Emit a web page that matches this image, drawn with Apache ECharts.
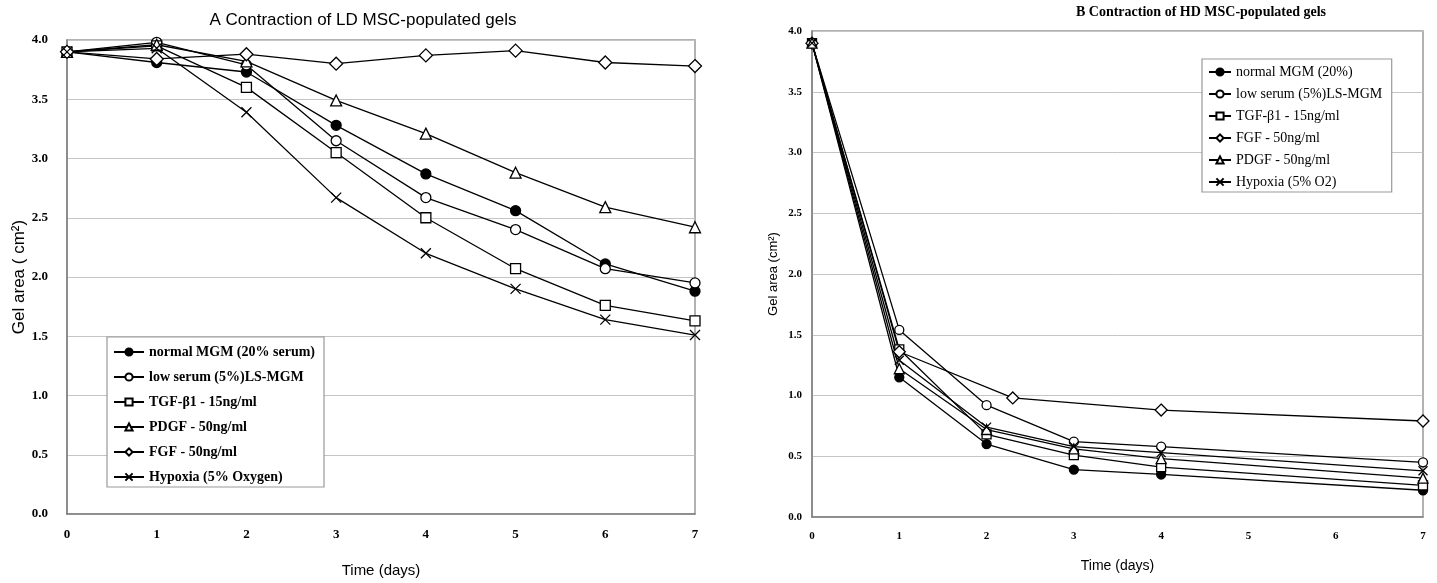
<!DOCTYPE html>
<html>
<head>
<meta charset="utf-8">
<script src="https://cdn.jsdelivr.net/npm/echarts@6/dist/echarts.min.js"></script>
<style>
  html, body { margin: 0; padding: 0; background: #fff; }
  #chart { width: 1437px; height: 583px; }
</style>
</head>
<body>
<div id="chart"></div>
<script>
// Panel A: low-density gels, measured every day
const daysA = [0, 1, 2, 3, 4, 5, 6, 7];
const normalA  = [3.90, 3.81, 3.73, 3.28, 2.87, 2.56, 2.11, 1.88];
const lowSerumA = [3.90, 3.98, 3.79, 3.15, 2.67, 2.40, 2.07, 1.95];
const tgfA     = [3.90, 3.95, 3.60, 3.05, 2.50, 2.07, 1.76, 1.63];
const pdgfA    = [3.90, 3.96, 3.82, 3.49, 3.21, 2.88, 2.59, 2.42];
const fgfA     = [3.90, 3.84, 3.88, 3.80, 3.87, 3.91, 3.81, 3.78];
const hypoxiaA = [3.90, 3.93, 3.39, 2.67, 2.20, 1.90, 1.64, 1.51];

// Panel B: high-density gels
const daysB = [0, 1, 2, 3, 4, 7];
const daysBFgf = [0, 1, 2.3, 4, 7];
const normalB   = [3.90, 1.15, 0.60, 0.39, 0.35, 0.22];
const lowSerumB = [3.90, 1.54, 0.92, 0.62, 0.58, 0.45];
const tgfB      = [3.90, 1.38, 0.68, 0.51, 0.41, 0.26];
const fgfB      = [3.90, 1.36, 0.98, 0.88, 0.79];
const pdgfB     = [3.90, 1.22, 0.72, 0.56, 0.48, 0.32];
const hypoxiaB  = [3.90, 1.29, 0.74, 0.58, 0.53, 0.38];

const namesA = ['normal MGM (20% serum)', 'low serum (5%)LS-MGM', 'TGF-β1 - 15ng/ml',
                'PDGF - 50ng/ml', 'FGF - 50ng/ml', 'Hypoxia (5% Oxygen)'];
const namesB = ['normal MGM (20%)', 'low serum (5%)LS-MGM ', 'TGF-β1 - 15ng/ml ',
                'FGF - 50ng/ml ', 'PDGF - 50ng/ml ', 'Hypoxia (5% O2)'];

const yTicks = [0, 0.5, 1.0, 1.5, 2.0, 2.5, 3.0, 3.5, 4.0];
const xTicks = [0, 1, 2, 3, 4, 5, 6, 7];

const pairs = (xs, ys) => xs.map((x, i) => [x, ys[i]]);

const crossPath = 'path://M0,0L10,10M10,0L0,10';
const marker = {
  filled:   { symbol: 'circle',   fill: '#000' },
  circle:   { symbol: 'circle',   fill: '#fff' },
  square:   { symbol: 'rect',     fill: '#fff' },
  triangle: { symbol: 'triangle', fill: '#fff' },
  diamond:  { symbol: 'diamond',  fill: '#fff' },
  cross:    { symbol: crossPath,  fill: '#000' }
};

function lineSeries(name, data, m, idx, size) {
  return {
    type: 'line',
    name: name,
    xAxisIndex: idx,
    yAxisIndex: idx,
    data: data,
    symbol: m.symbol,
    symbolSize: m.symbol === 'diamond' ? size + 3 : (m.symbol === 'triangle' ? size + 1 : size),
    showAllSymbol: true,
    lineStyle: { color: '#000', width: 1.3 },
    itemStyle: { color: m.fill, borderColor: '#000', borderWidth: 1.3 },
    emphasis: { disabled: true },
    animation: false,
    z: 3
  };
}

const serif = '"Liberation Serif", "DejaVu Serif", serif';
const sans = '"Liberation Sans", Arial, sans-serif';

function xAxis(idx) {
  return {
    type: 'value', gridIndex: idx, min: 0, max: 7, interval: 1,
    name: 'Time (days)', nameLocation: 'middle',
    nameGap: idx === 0 ? 49 : 42,
    nameTextStyle: { fontFamily: sans, fontSize: idx === 0 ? 15 : 14, color: '#000' },
    axisLine: { show: true, lineStyle: { color: '#808080', width: 1.5 } },
    axisTick: { show: false },
    splitLine: { show: false },
    axisLabel: {
      fontFamily: serif, fontWeight: 'bold', fontSize: idx === 0 ? 13 : 11, color: '#000',
      margin: idx === 0 ? 14 : 14,
      formatter: v => xTicks.includes(v) ? String(v) : ''
    }
  };
}

function yAxis(idx) {
  return {
    type: 'value', gridIndex: idx, min: 0, max: 4, interval: 0.5,
    name: idx === 0 ? 'Gel area ( cm²)' : 'Gel area (cm²)',
    nameLocation: 'middle', nameRotate: 90,
    nameGap: idx === 0 ? 36 : 32,
    nameTextStyle: { fontFamily: sans, fontSize: idx === 0 ? 17 : 13, color: '#000' },
    axisLine: { show: true, lineStyle: { color: '#808080', width: 1.5 } },
    axisTick: { show: false },
    splitLine: { show: true, lineStyle: { color: '#c4c4c4', width: 1 } },
    axisLabel: {
      fontFamily: serif, fontWeight: 'bold', fontSize: idx === 0 ? 13 : 11, color: '#000',
      margin: idx === 0 ? 19 : 10,
      formatter: v => yTicks.includes(v) ? v.toFixed(1) : ''
    }
  };
}

const keysA = ['filled', 'circle', 'square', 'triangle', 'diamond', 'cross'];
const keysB = ['filled', 'circle', 'square', 'diamond', 'triangle', 'cross'];
const valuesA = [normalA, lowSerumA, tgfA, pdgfA, fgfA, hypoxiaA];
const valuesB = [normalB, lowSerumB, tgfB, fgfB, pdgfB, hypoxiaB];
const xsB = [daysB, daysB, daysB, daysBFgf, daysB, daysB];

const series = [];
namesA.forEach((n, i) => series.push(lineSeries(n, pairs(daysA, valuesA[i]), marker[keysA[i]], 0, 10)));
namesB.forEach((n, i) => series.push(lineSeries(n, pairs(xsB[i], valuesB[i]), marker[keysB[i]], 1, 9)));

const chart = echarts.init(document.getElementById('chart'), null, { renderer: 'canvas' });
chart.setOption({
  backgroundColor: '#fff',
  animation: false,
  title: [
    {
      text: 'A Contraction of LD MSC-populated gels',
      left: 358, top: 7, textAlign: 'center',
      textStyle: { fontFamily: sans, fontWeight: 'normal', fontSize: 17, color: '#000' }
    },
    {
      text: 'B Contraction of HD MSC-populated gels',
      left: 1196, top: 0, textAlign: 'center',
      textStyle: { fontFamily: serif, fontWeight: 'bold', fontSize: 14, color: '#000' }
    }
  ],
  grid: [
    { left: 67, top: 40, width: 628, height: 475, show: true, borderColor: '#999', borderWidth: 1.5, backgroundColor: 'transparent' },
    { left: 812, top: 31, width: 611, height: 486, show: true, borderColor: '#999', borderWidth: 1.5, backgroundColor: 'transparent' }
  ],
  xAxis: [xAxis(0), xAxis(1)],
  yAxis: [yAxis(0), yAxis(1)],
  legend: [
    {
      data: namesA, orient: 'vertical', left: 107, top: 337,
      itemWidth: 30, itemHeight: 9, itemGap: 11,
      padding: [8, 9, 3, 6],
      backgroundColor: '#fff', borderColor: '#999', borderWidth: 1.2,
      selectedMode: false,
      textStyle: { fontFamily: serif, fontWeight: 'bold', fontSize: 14, color: '#000' }
    },
    {
      data: namesB, orient: 'vertical', left: 1202, top: 59,
      itemWidth: 22, itemHeight: 9, itemGap: 8,
      padding: [6, 6, 3, 6],
      backgroundColor: '#fff', borderColor: '#999', borderWidth: 1.2,
      selectedMode: false,
      textStyle: { fontFamily: serif, fontSize: 14, color: '#000' }
    }
  ],
  series: series
});
</script>
</body>
</html>
